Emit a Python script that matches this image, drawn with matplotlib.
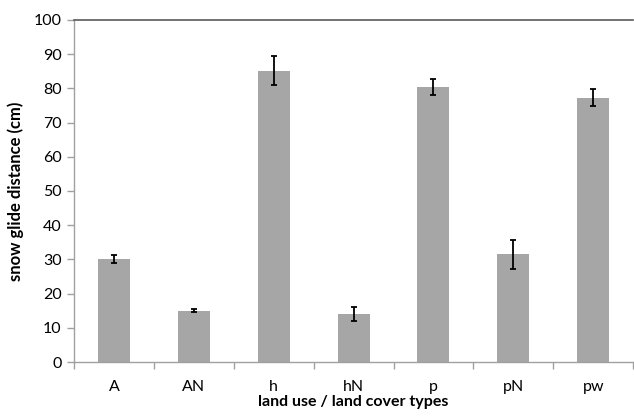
import numpy as np
import matplotlib
matplotlib.use("Agg")
import matplotlib.pyplot as plt

plt.rcParams['font.family'] = ['Lato', 'DejaVu Sans']

# land use / land cover types
types = ['A', 'AN', 'h', 'hN', 'p', 'pN', 'pw']
glide = [30.2, 15.0, 85.2, 14.0, 80.3, 31.5, 77.3]
err = [1.2, 0.4, 4.2, 2.0, 2.3, 4.3, 2.5]

fig = plt.figure(figsize=(6.34, 4.16), dpi=100)
ax = fig.add_axes([0.1167, 0.1298, 0.882, 0.8222])

pos = np.arange(len(types))
ax.bar(pos, glide, 0.4, color='#a6a6a6', zorder=2)
ax.errorbar(pos, glide, yerr=err, fmt='none', ecolor='black',
            elinewidth=1.3, capsize=2.5, capthick=1.3, zorder=3)

ax.set_xlim(-0.5, len(types) - 0.5)
ax.set_ylim(0, 100)
ax.set_yticks(range(0, 101, 10))
ax.set_xticks(pos)
ax.set_xticklabels(types)
ax.set_xticks(np.arange(-0.5, len(types), 1), minor=True)
ax.tick_params(axis='x', which='major', length=0, pad=13, labelsize=11.5)
ax.tick_params(axis='x', which='minor', length=5, color='#a0a0a0', width=1)
ax.tick_params(axis='y', length=5, color='#a0a0a0', width=1, labelsize=11.5, pad=4)

ax.spines['right'].set_visible(False)
ax.spines['top'].set_color('#5a5a5a')
ax.spines['top'].set_linewidth(1.2)
for s in ['left', 'bottom']:
    ax.spines[s].set_color('#a0a0a0')
    ax.spines[s].set_linewidth(1)

ax.set_ylabel('snow glide distance (cm)', fontsize=12, fontweight='bold', labelpad=7)
ax.set_xlabel('land use / land cover types', fontsize=11.5, fontweight='bold', labelpad=1)

fig.savefig('out.png', dpi=100)
